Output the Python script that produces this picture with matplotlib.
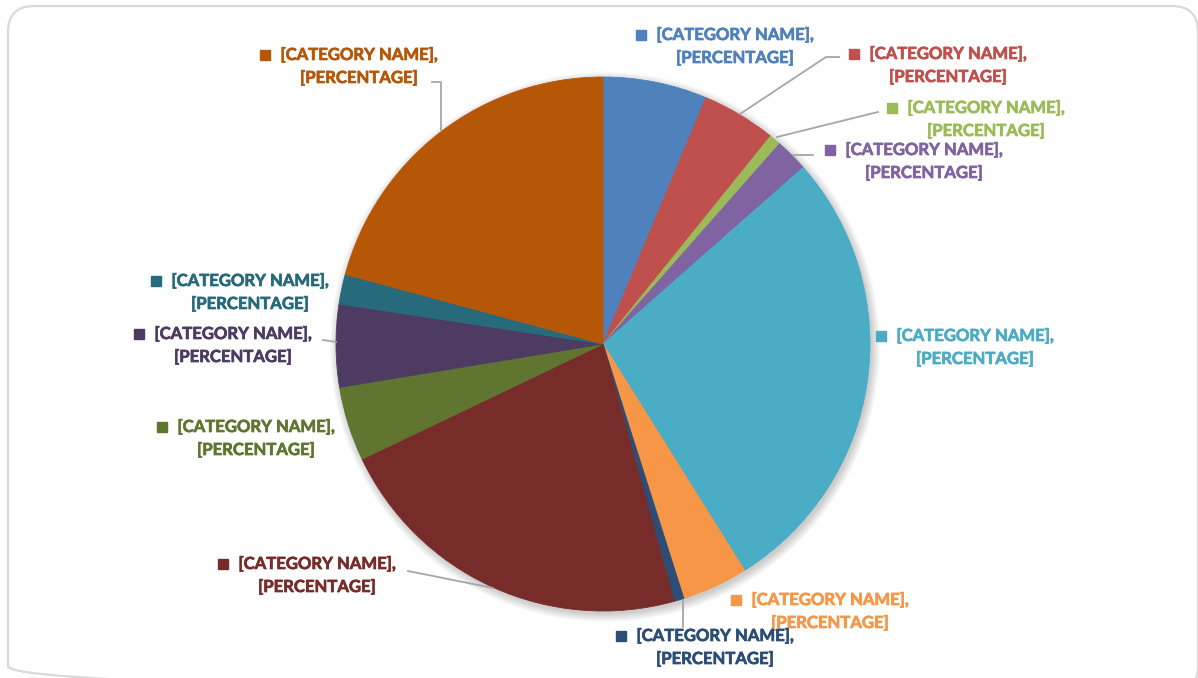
import numpy as np
import matplotlib.pyplot as plt
import matplotlib.patheffects as pe
from matplotlib.patches import FancyBboxPatch, Circle

# Datos del gráfico (sentido horario desde las 12)
categories = ["[CATEGORY NAME]"] * 12
shares = [6.3, 4.5, 0.7, 2.0, 27.6, 4.0, 0.6, 22.2, 4.5, 5.0, 1.8, 20.8]
colors = ["#4F81BD", "#C0504D", "#9BBB59", "#8064A2", "#4BACC6", "#F79646",
          "#2C4D75", "#772C2A", "#5F7530", "#4D3B62", "#276A7C", "#B65708"]

# Posición de las etiquetas en píxeles: centro x del texto, y de la primera línea
label_pos = [(735, 35), (948, 54), (986, 108), (924, 150), (975, 336), (830, 600),
             (715, 636), (317, 564), (256, 427), (233, 334), (250, 281), (359, 55)]

# Líneas guía (píxeles)
leaders = {
    1: [(740, 114), (826, 57), (839, 57)],
    2: [(777, 137), (878, 112)],
    3: [(793, 155), (813, 155)],
    6: [(683, 600), (683, 627)],
    7: [(493, 588), (408, 571)],
    9: [(323, 340), (336, 342)],
    11: [(432, 82), (441, 82), (441, 131)],
}

W, H = 1198, 678
cx, cy, r = 603, 344, 267

fig = plt.figure(figsize=(W / 100, H / 100), dpi=100)
ax = fig.add_axes([0, 0, 1, 1])

# sombra suave
for i in range(10):
    ax.add_patch(Circle((cx + 2, cy + 3), r + i * 0.9, color="black",
                        alpha=0.018, lw=0, zorder=1))

wedges, _ = ax.pie(shares, colors=colors, center=(cx, cy), radius=r,
                   startangle=-90, counterclock=True,
                   wedgeprops=dict(linewidth=0.6, edgecolor="white"))
for w in wedges:
    w.set_zorder(2)
    w.set_edgecolor(w.get_facecolor())

ax.set_xlim(0, W)
ax.set_ylim(H, 0)
ax.set_aspect("equal")
ax.axis("off")

# marco redondeado
frame = FancyBboxPatch((8, 6), 1190, 686, boxstyle="round,pad=0,rounding_size=26",
                       fc="none", ec="#D9D9D9", lw=1.6, zorder=0, clip_on=False)
ax.add_patch(frame)

for i, (x, y) in enumerate(label_pos):
    c = colors[i]
    efecto = [pe.withStroke(linewidth=0.5, foreground=c)]
    ax.text(x, y, categories[i] + ",", ha="center", va="center", color=c,
            fontsize=12, fontweight="bold", family="Lato", zorder=5,
            path_effects=efecto)
    ax.text(x, y + 23, "[PERCENTAGE]", ha="center", va="center", color=c,
            fontsize=12, fontweight="bold", family="Lato", zorder=5,
            path_effects=efecto)
    ax.plot(x - 94, y, marker="s", ms=7, color=c, zorder=5)

for i, pts in leaders.items():
    xs = [p[0] for p in pts]
    ys = [p[1] for p in pts]
    ax.plot(xs, ys, color="#A6A6A6", lw=1.3, zorder=3)

fig.savefig("out.png", dpi=100)
